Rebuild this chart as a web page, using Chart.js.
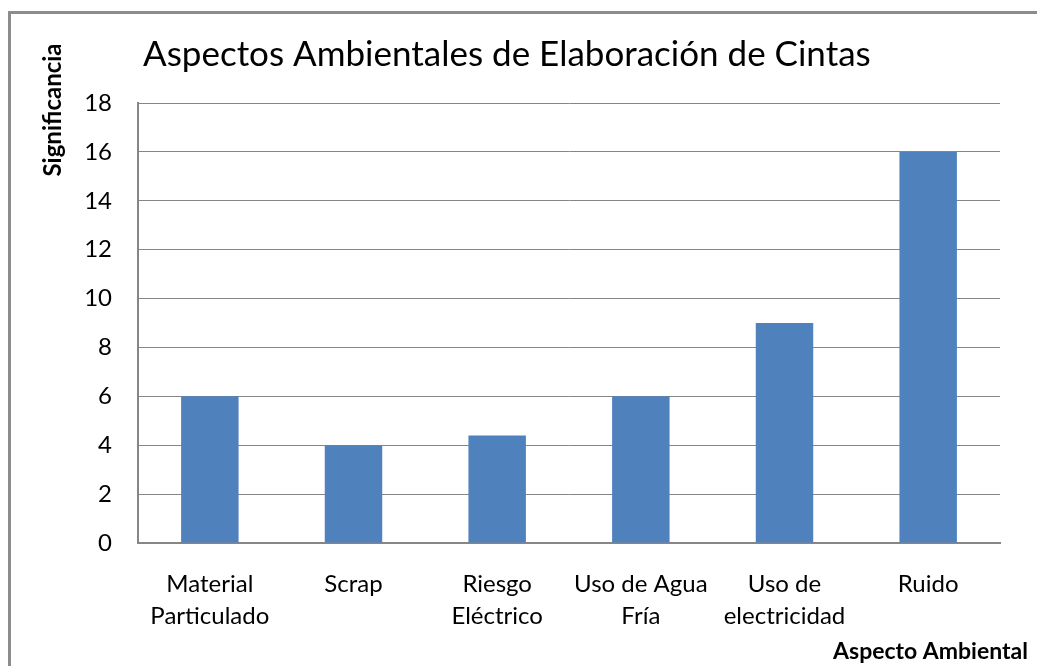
<!DOCTYPE html>
<html>
<head>
<meta charset="utf-8">
<script src="https://cdn.jsdelivr.net/npm/chart.js@4"></script>
<style>
  html, body { margin: 0; padding: 0; background: #fff; }
  #wrap { width: 1037px; height: 666px; }
</style>
</head>
<body>
<div id="wrap"><canvas id="chart" width="1037" height="666"></canvas></div>
<script>
// Datos del gráfico
const titulo = "Aspectos Ambientales de Elaboración de Cintas";
const tituloY = "Significancia";
const tituloX = "Aspecto Ambiental";
const categorias = [
  ["Material", "Particulado"],
  ["Scrap"],
  ["Riesgo", "Eléctrico"],
  ["Uso de Agua", "Fría"],
  ["Uso de", "electricidad"],
  ["Ruido"],
];
const significancia = [6, 4, 4.4, 6, 9, 16];
const ejeY = { min: 0, max: 18, paso: 2 };

const fuente = "Lato, 'Open Sans', sans-serif";
const gris = "#868686";

// Marco y textos como en la hoja de Excel
const textos = {
  id: "textos",
  beforeDraw(chart) {
    const ctx = chart.ctx;
    ctx.save();
    ctx.fillStyle = "#fff";
    ctx.fillRect(0, 0, chart.width, chart.height);
    ctx.strokeStyle = "#8c8c8c";
    ctx.lineWidth = 3;
    ctx.strokeRect(9.5, 12.5, chart.width + 20, chart.height + 20);
    ctx.restore();
  },
  afterDraw(chart) {
    const ctx = chart.ctx;
    ctx.save();
    ctx.fillStyle = "#000";
    ctx.textBaseline = "middle";

    ctx.font = "35px " + fuente;
    ctx.textAlign = "left";
    ctx.fillText(titulo, 143, 55);

    ctx.font = "bold 23px " + fuente;
    ctx.textAlign = "right";
    ctx.fillText(tituloX, 1028, 652);

    ctx.translate(53, 110);
    ctx.rotate(-Math.PI / 2);
    ctx.textAlign = "center";
    ctx.font = "bold 24px " + fuente;
    ctx.fillText(tituloY, 0, 0);
    ctx.restore();
  },
};

const ctx = document.getElementById("chart").getContext("2d");
new Chart(ctx, {
  type: "bar",
  data: {
    labels: categorias,
    datasets: [{
      label: tituloY,
      data: significancia,
      backgroundColor: "#4F81BD",
      borderWidth: 0,
      categoryPercentage: 1,
      barPercentage: 0.4,
    }],
  },
  options: {
    responsive: false,
    animation: false,
    layout: { padding: { left: 0, right: 37, top: 103, bottom: 0 } },
    plugins: {
      legend: { display: false },
      tooltip: { enabled: false },
      title: { display: false },
    },
    scales: {
      x: {
        grid: { display: false, drawTicks: false },
        border: { color: gris, width: 2 },
        ticks: {
          color: "#000",
          padding: 25,
          maxRotation: 0,
          autoSkip: false,
          font: { family: fuente, size: 24, lineHeight: 1.35 },
        },
        afterFit(scale) { scale.height = 666 - 103 - 440; },
      },
      y: {
        min: ejeY.min,
        max: ejeY.max,
        grid: { color: gris, lineWidth: 1, drawTicks: false },
        border: { color: gris, width: 2 },
        ticks: {
          stepSize: ejeY.paso,
          color: "#000",
          padding: 26,
          font: { family: fuente, size: 24 },
        },
        afterFit(scale) { scale.width = 138; },
      },
    },
  },
  plugins: [textos],
});
</script>
</body>
</html>
